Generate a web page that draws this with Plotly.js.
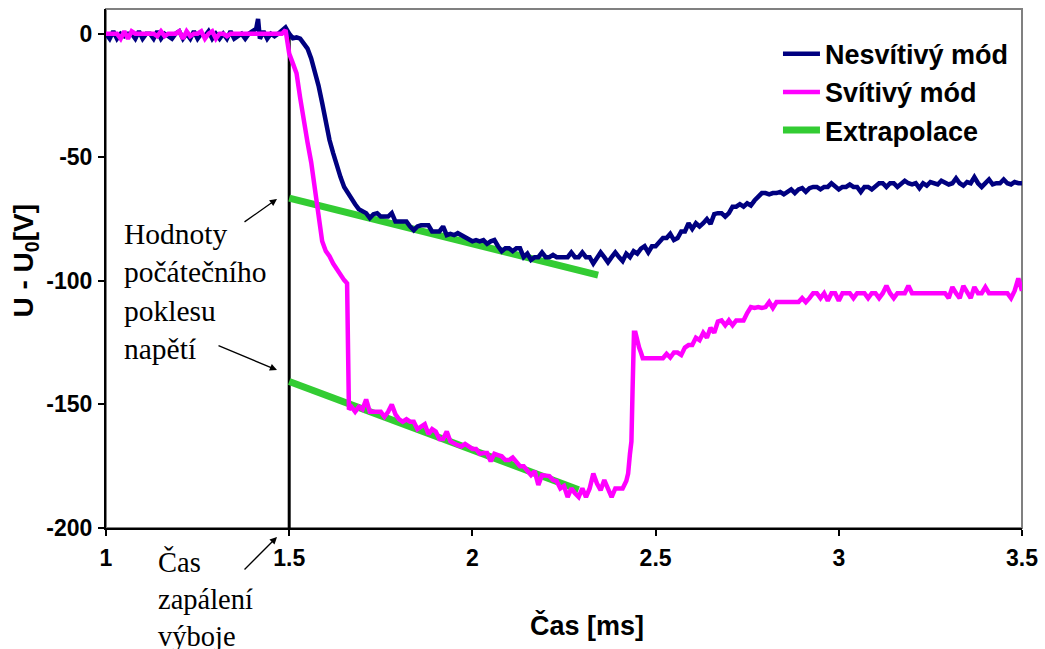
<!DOCTYPE html>
<html>
<head>
<meta charset="utf-8">
<script src="https://cdn.plot.ly/plotly-3.0.1.min.js"></script>
<style>
  html, body { margin: 0; padding: 0; background: #ffffff; }
  #chart { width: 1045px; height: 649px; }
</style>
</head>
<body>
<div id="chart"></div>
<script>
// Time axis [ms] and voltage drop U - U0 [V] for the non-luminous mode
const navyT = [
  1.00,1.01,1.02,1.03,1.04,1.05,1.06,1.07,1.08,1.09,1.10,1.11,1.12,1.13,1.14,1.15,1.16,1.17,1.18,1.19,
  1.20,1.21,1.22,1.23,1.24,1.25,1.26,1.27,1.28,1.29,1.30,1.31,1.32,1.33,1.34,1.35,1.36,1.37,1.38,1.39,
  1.40,1.41,1.415,1.42,1.43,1.44,1.45,1.46,1.47,1.48,1.49,1.50,1.51,1.52,1.53,1.54,1.55,1.56,1.57,1.58,
  1.59,1.60,1.61,1.62,1.63,1.64,1.65,1.66,1.67,1.68,1.69,1.70,1.71,1.72,1.73,1.74,1.75,1.76,1.77,1.78,
  1.79,1.80,1.81,1.82,1.83,1.84,1.85,1.86,1.87,1.88,1.89,1.90,1.91,1.92,1.93,1.94,1.95,1.96,1.97,1.98,
  1.99,2.00,2.01,2.02,2.03,2.04,2.05,2.06,2.07,2.08,2.09,2.10,2.11,2.12,2.13,2.14,2.15,2.16,2.17,2.18,
  2.19,2.20,2.21,2.22,2.23,2.24,2.25,2.26,2.27,2.28,2.29,2.30,2.31,2.32,2.33,2.34,2.35,2.36,2.37,2.38,
  2.39,2.40,2.41,2.42,2.43,2.44,2.45,2.46,2.47,2.48,2.49,2.50,2.51,2.52,2.53,2.54,2.55,2.56,2.57,2.58,
  2.59,2.60,2.61,2.62,2.63,2.64,2.65,2.66,2.67,2.68,2.69,2.70,2.71,2.72,2.73,2.74,2.75,2.76,2.77,2.78,
  2.79,2.80,2.81,2.82,2.83,2.84,2.85,2.86,2.87,2.88,2.89,2.90,2.91,2.92,2.93,2.94,2.95,2.96,2.97,2.98,
  2.99,3.00,3.01,3.02,3.03,3.04,3.05,3.06,3.07,3.08,3.09,3.10,3.11,3.12,3.13,3.14,3.15,3.16,3.17,3.18,
  3.19,3.20,3.21,3.22,3.23,3.24,3.25,3.26,3.27,3.28,3.29,3.30,3.31,3.32,3.33,3.34,3.35,3.36,3.37,3.38,
  3.39,3.40,3.41,3.42,3.43,3.44,3.45,3.46,3.47,3.48,3.49,3.50
];
const navyU = [
  0,-2,1,-2,0,-1,0,0,-2,1,-2,0,0,-2,1,-2,0,-1,-2,0,
  1,-2,0,-2,1,-2,0,-1,1,-2,0,-2,0,-2,1,-2,-1,0,-2,0,
  1,2,6,-2,1,-2,0,-1,0,1,2.5,0,-1.8,-1.5,-2,-4,-6,-10,-15,-21,
  -28,-36,-43,-48.3,-54,-58,-62,-64.5,-67,-69,-71,-72,-72.6,-74.6,-73,-72.6,-74,-74,-74,-72.6,
  -76,-76,-76,-76,-78,-79.5,-78,-77.5,-77.5,-77.5,-80,-80,-80,-78,-81.5,-81,-81.5,-80.7,-81.5,-82.7,
  -83.5,-84,-83.5,-84,-83.5,-85,-84,-83.5,-86,-88,-86.8,-86.8,-88,-86.8,-86.8,-90.4,-89,-91.5,-90.4,-90.4,
  -88.5,-90.4,-90.4,-89.5,-90.4,-90.4,-90.4,-90.4,-88.5,-90.4,-90.4,-88.5,-90.4,-90.4,-93,-90.4,-88.5,-90.4,-92.5,-90.4,
  -88.5,-90.4,-92,-89,-90.4,-88,-89,-87,-86,-88.5,-86,-86,-84,-82.7,-82.7,-81,-83.5,-82.7,-80,-80,
  -76.7,-79,-76.7,-78,-76.7,-75,-77,-73,-72.6,-72.6,-74,-72.6,-70,-70,-69,-70,-68.6,-69.5,-67.5,-66,
  -64.5,-64.5,-65,-64.5,-64.5,-64,-65,-64,-63,-64.5,-63,-62.5,-64,-62.5,-62,-62,-63,-62,-62,-60.5,
  -62,-63,-62,-62,-61,-62,-62,-64,-62,-62,-63,-62,-60.5,-60.5,-62,-60.5,-60.5,-62,-60.5,-59.5,
  -60.5,-61,-60.5,-62.5,-60.5,-61.5,-60,-60.5,-61,-59.5,-60.5,-61,-60.5,-58.5,-60.5,-61.5,-60,-60.5,-58,-60.5,
  -62,-60.5,-59,-61,-60.5,-60.5,-59,-60.5,-61,-60,-60.5,-60.5
];

// Time axis [ms] and voltage drop U - U0 [V] for the luminous mode
const pinkT = [
  1.00,1.01,1.02,1.03,1.04,1.05,1.06,1.07,1.08,1.09,1.10,1.11,1.12,1.13,1.14,1.15,1.16,1.17,1.18,1.19,
  1.20,1.21,1.22,1.23,1.24,1.25,1.26,1.27,1.28,1.29,1.30,1.31,1.32,1.33,1.34,1.35,1.36,1.37,1.38,1.39,
  1.40,1.41,1.42,1.43,1.44,1.45,1.46,1.47,1.48,1.49,1.50,1.51,1.52,1.53,1.54,1.55,1.56,1.57,1.58,1.59,
  1.60,1.61,1.62,1.63,1.64,1.65,1.658,1.661,1.663,1.67,1.68,1.69,1.70,1.71,1.72,1.73,1.74,1.75,1.76,1.77,
  1.78,1.79,1.80,1.81,1.82,1.83,1.84,1.85,1.86,1.87,1.88,1.89,1.90,1.91,1.92,1.93,1.94,1.95,1.96,1.97,
  1.98,1.99,2.00,2.01,2.02,2.03,2.04,2.05,2.06,2.07,2.08,2.09,2.10,2.11,2.12,2.13,2.14,2.15,2.16,2.17,
  2.18,2.19,2.20,2.21,2.22,2.23,2.24,2.25,2.26,2.27,2.28,2.29,2.30,2.31,2.32,2.33,2.34,2.35,2.36,2.37,
  2.38,2.39,2.40,2.41,2.42,2.425,2.43,2.434,2.437,2.441,2.445,2.45,2.455,2.46,2.465,2.47,2.48,2.49,2.50,2.51,
  2.52,2.53,2.54,2.55,2.56,2.57,2.58,2.59,2.60,2.61,2.62,2.63,2.64,2.65,2.66,2.67,2.68,2.69,2.70,2.71,
  2.72,2.73,2.74,2.75,2.76,2.77,2.78,2.79,2.80,2.81,2.82,2.83,2.84,2.85,2.86,2.87,2.88,2.89,2.90,2.91,
  2.92,2.93,2.94,2.95,2.96,2.97,2.98,2.99,3.00,3.01,3.02,3.03,3.04,3.05,3.06,3.07,3.08,3.09,3.10,3.11,
  3.12,3.13,3.14,3.15,3.16,3.17,3.18,3.19,3.20,3.21,3.22,3.23,3.24,3.25,3.26,3.27,3.28,3.29,3.30,3.31,
  3.32,3.33,3.34,3.35,3.36,3.37,3.38,3.39,3.40,3.41,3.42,3.43,3.44,3.45,3.46,3.47,3.48,3.49,3.50
];
const pinkU = [
  0,0,0,0,-2,1,-2,1,0,0,0,0,0,0,-1,1,-1,0,0,0,
  1,-2,1,-1,0,0,1,-2,0,1,-2,0,0,-1,0,0,0,0,0,0,
  0,0,0,0,0,0,0,0,0,1.5,-8,-12,-16,-26,-36,-44,-52,-63,-76,-84,
  -88,-90,-93,-95.5,-97.5,-99.7,-101,-130,-152,-151,-153,-151,-152,-148,-153,-153,-153,-153,-155,-153,
  -150,-154,-156,-157,-156,-157,-157,-160,-159,-158,-162,-160,-161,-164,-164,-161,-165,-166,-166.5,-167,
  -166,-167,-168,-168,-170,-169.7,-169.7,-173,-170,-170.5,-171,-172.5,-172.5,-171.5,-173,-175,-175,-176.5,-178.6,-177,
  -182.6,-178.6,-179,-179,-180.6,-181,-184,-183,-187.5,-184,-186,-187.5,-184,-187.5,-184,-178,-182,-184.7,-180.6,-184,
  -187.5,-184,-184,-184,-181,-178,-170,-165,-145,-121,-121,-125,-127,-129,-131.3,-131.3,-131.3,-131.3,-131.3,-131.3,
  -131.3,-129.5,-131,-129,-129,-130,-127,-126,-126,-123,-124,-121,-123,-119,-121,-116.5,-116,-118,-116,-118,
  -116,-116,-116,-113,-110.6,-111,-110.6,-111,-110.6,-108.6,-111,-108.6,-108.6,-108.6,-109,-108.6,-108.6,-108.6,-107,-108.6,
  -107,-105,-105,-107,-105,-108,-105,-105,-108,-105,-105,-105,-107,-105,-105,-105,-107,-105,-105,-107,
  -105,-102,-105,-107,-105,-105,-105,-102,-105,-105,-105,-105,-105,-105,-105,-105,-105,-105,-107,-102.5,
  -105,-107,-102,-105,-107,-102.5,-105,-105,-102.5,-105,-105,-105,-105,-105,-105,-107,-104,-99,-104
];

// Linear extrapolation of the initial voltage drop (two segments)
const extraT = [1.50, 2.343, null, 1.50, 2.29];
const extraU = [-66.5, -97.7, null, -140.7, -184.5];

// Ignition time marker
const ignitionT = [1.5, 1.5];
const ignitionU = [0, -200];

const seriesNames = ['Nesvítivý mód', 'Svítivý mód', 'Extrapolace'];
const xTicks = [1, 1.5, 2, 2.5, 3, 3.5];
const xTickText = ['1', '1.5', '2', '2.5', '3', '3.5'];
const yTicks = [0, -50, -100, -150, -200];
const yTickText = ['0', '-50', '-100', '-150', '-200'];

const sans = 'Liberation Sans, Arial, sans-serif';
const serif = 'Liberation Serif, Times New Roman, serif';

const traces = [
  { x: ignitionT, y: ignitionU, mode: 'lines', showlegend: false, hoverinfo: 'skip',
    line: { color: '#000000', width: 3 } },
  { x: extraT, y: extraU, mode: 'lines', name: seriesNames[2], legendrank: 3,
    line: { color: '#33CC33', width: 7 } },
  { x: navyT, y: navyU, mode: 'lines', name: seriesNames[0], legendrank: 1,
    line: { color: '#000080', width: 4.5 } },
  { x: pinkT, y: pinkU, mode: 'lines', name: seriesNames[1], legendrank: 2,
    line: { color: '#FF00FF', width: 4.5 } }
];

const arrowStyle = { showarrow: true, arrowhead: 2, arrowsize: 1.1, arrowwidth: 1.3,
  arrowcolor: '#000000', text: '', xref: 'paper', yref: 'paper', axref: 'pixel', ayref: 'pixel', standoff: 0 };

const layout = {
  width: 1045, height: 649,
  margin: { l: 106, r: 23, t: 9, b: 121 },
  paper_bgcolor: '#ffffff', plot_bgcolor: '#ffffff',
  showlegend: true,
  legend: {
    x: 0.7336, y: 0.96, xanchor: 'left', yanchor: 'top',
    bgcolor: 'rgba(0,0,0,0)',
    itemwidth: 37,
    font: { family: sans, size: 27, color: '#000000', weight: 'bold' },
    tracegroupgap: 0
  },
  xaxis: {
    range: [1, 3.5], showgrid: false, zeroline: false,
    showline: true, linecolor: '#000000', linewidth: 2,
    ticks: 'outside', ticklen: 6, tickwidth: 1.5, tickcolor: '#000000',
    tickmode: 'array', tickvals: xTicks, ticktext: xTickText,
    ticklabelstandoff: 2,
    tickfont: { family: sans, size: 23, color: '#000000', weight: 'bold' }
  },
  yaxis: {
    range: [-200, 10], showgrid: false, zeroline: false,
    showline: true, linecolor: '#000000', linewidth: 2,
    ticks: 'outside', ticklen: 6, tickwidth: 1.5, tickcolor: '#000000',
    tickmode: 'array', tickvals: yTicks, ticktext: yTickText,
    ticklabelstandoff: 1,
    tickfont: { family: sans, size: 23, color: '#000000', weight: 'bold' }
  },
  shapes: [
    { type: 'rect', xref: 'paper', yref: 'paper', x0: 0, x1: 1, y0: 0, y1: 1,
      line: { color: '#808080', width: 2 }, layer: 'below' }
  ],
  annotations: [
    { text: 'U - U<sub>0</sub>[V]', xref: 'paper', yref: 'paper', x: -0.088, y: 0.516,
      textangle: -90, showarrow: false, xanchor: 'center', yanchor: 'middle',
      font: { family: sans, size: 28, color: '#000000', weight: 'bold' } },
    { text: 'Čas [ms]', xref: 'paper', yref: 'paper', x: 0.525, y: -0.187,
      showarrow: false, xanchor: 'center', yanchor: 'middle',
      font: { family: sans, size: 27, color: '#000000', weight: 'bold' } },
    { text: 'Hodnoty<br>počátečního<br>poklesu<br>napětí', xref: 'paper', yref: 'paper',
      x: 0.018, y: 0.456, showarrow: false, xanchor: 'left', yanchor: 'middle', align: 'left',
      font: { family: serif, size: 29.5, color: '#000000' } },
    { text: 'Čas<br>zapálení<br>výboje', xref: 'paper', yref: 'paper',
      x: 0.055, y: -0.136, showarrow: false, xanchor: 'left', yanchor: 'middle', align: 'left',
      font: { family: serif, size: 28.5, color: '#000000' } },
    Object.assign({ x: 0.1867, y: 0.634, ax: -34, ay: 24 }, arrowStyle),
    Object.assign({ x: 0.1867, y: 0.3044, ax: -60, ay: -25 }, arrowStyle),
    Object.assign({ x: 0.1867, y: -0.0173, ax: -34, ay: 34 }, arrowStyle)
  ]
};

Plotly.newPlot('chart', traces, layout, { displayModeBar: false, responsive: false });
</script>
</body>
</html>
